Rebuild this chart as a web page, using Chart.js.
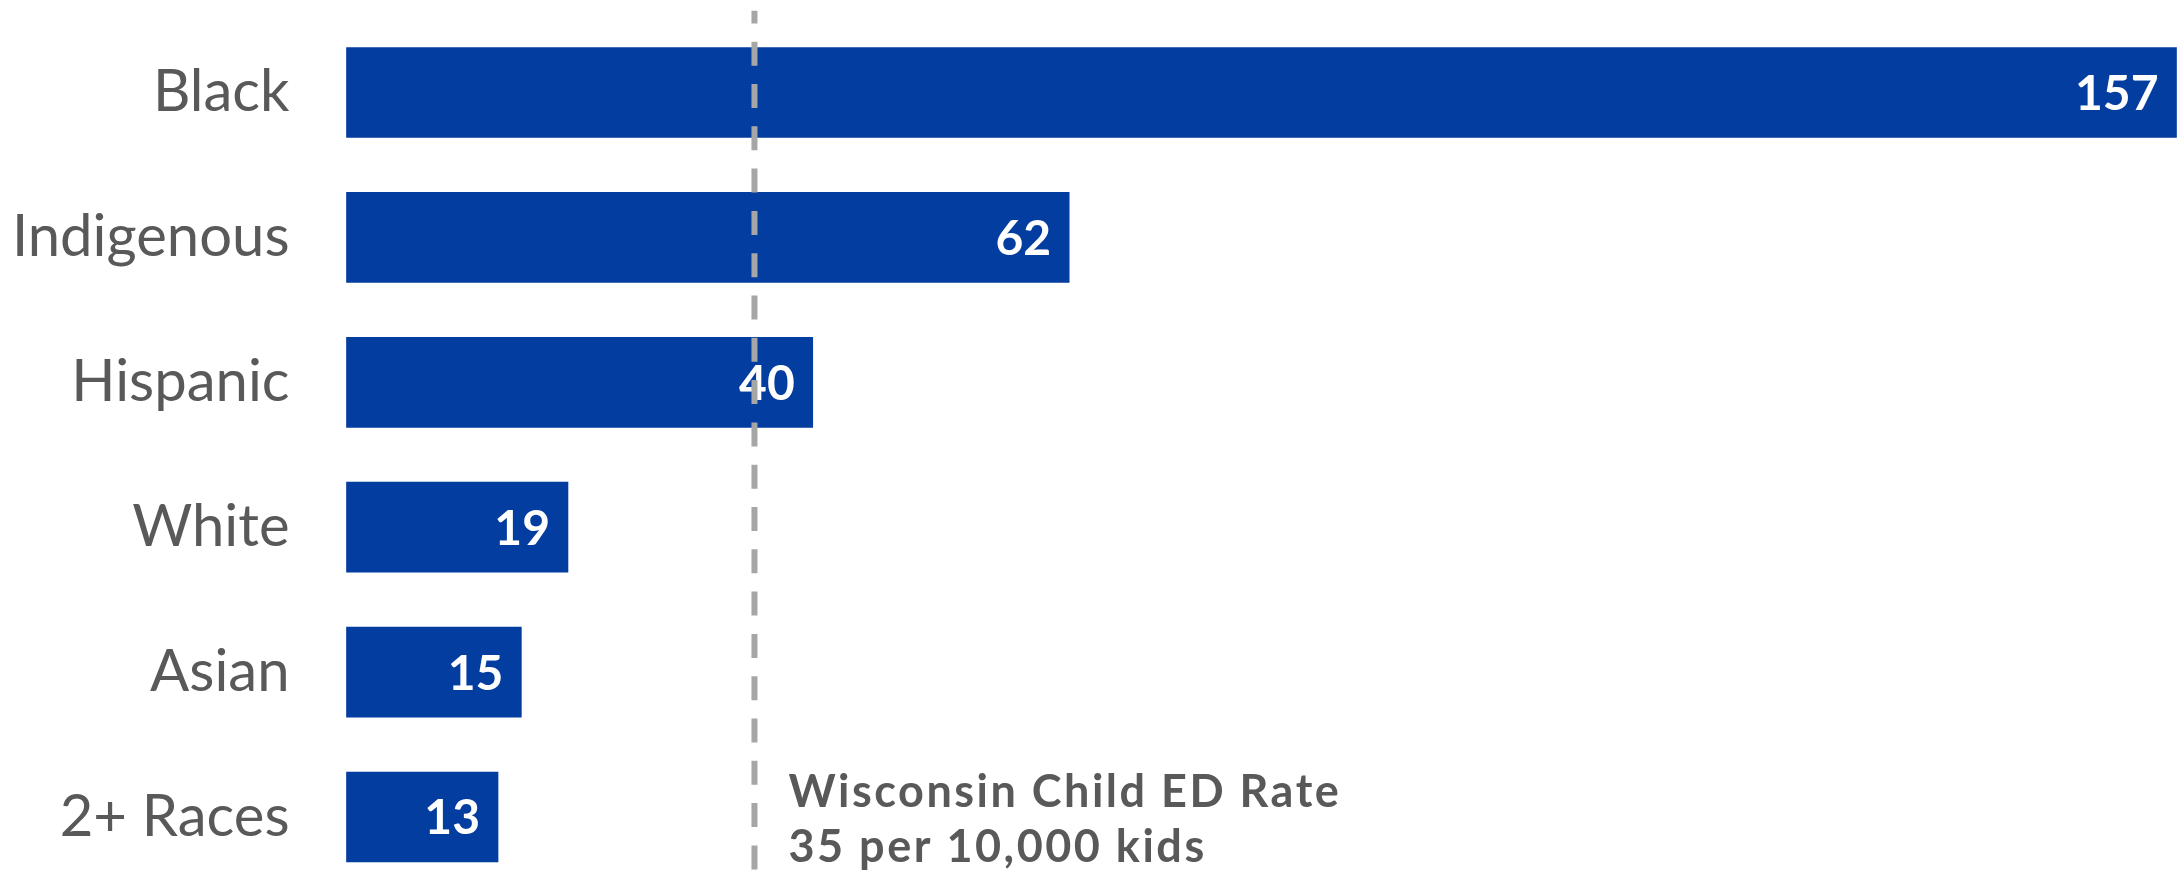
<!DOCTYPE html>
<html>
<head>
<meta charset="utf-8">
<script src="https://cdn.jsdelivr.net/npm/chart.js@4/dist/chart.umd.min.js"></script>
<style>
  html, body { margin: 0; padding: 0; background: #ffffff; overflow: hidden; }
  #wrap { width: 2182px; height: 873px; }
</style>
</head>
<body>
<div id="wrap"><canvas id="chart" width="2182" height="873"></canvas></div>
<script>
// Child emergency-department visit rates by race/ethnicity (per 10,000 kids)
const categories = ['Black', 'Indigenous', 'Hispanic', 'White', 'Asian', '2+ Races'];
const rates = [157, 62, 40, 19, 15, 13];

// Statewide reference rate and its note
const stateRate = 35;
const stateNote = ['Wisconsin Child ED Rate', '35 per 10,000 kids'];

const BAR_BLUE = '#023d9f';
const TEXT_GRAY = '#595959';
const LINE_GRAY = '#a6a6a6';

// White value labels drawn inside the end of each bar
const valueLabels = {
  id: 'valueLabels',
  afterDatasetsDraw(chart) {
    const ctx = chart.ctx;
    const meta = chart.getDatasetMeta(0);
    ctx.save();
    ctx.fillStyle = '#ffffff';
    ctx.font = 'bold 48px Lato, "Open Sans", sans-serif';
    ctx.textAlign = 'right';
    ctx.textBaseline = 'middle';
    meta.data.forEach((bar, i) => {
      ctx.fillText(String(rates[i]), bar.x - 18, bar.y + 2);
    });
    ctx.restore();
  }
};

// Dashed vertical reference line with its note
const stateLine = {
  id: 'stateLine',
  afterDatasetsDraw(chart) {
    const ctx = chart.ctx;
    const x = chart.scales.x.getPixelForValue(stateRate);
    ctx.save();
    ctx.strokeStyle = LINE_GRAY;
    ctx.lineWidth = 6;
    ctx.setLineDash([24, 18.3]);
    ctx.lineDashOffset = 11.3;
    ctx.beginPath();
    ctx.moveTo(x, 10.7);
    ctx.lineTo(x, chart.height);
    ctx.stroke();
    ctx.setLineDash([]);
    ctx.fillStyle = TEXT_GRAY;
    ctx.font = 'bold 45px Lato, "Open Sans", sans-serif';
    ctx.letterSpacing = '2.5px';
    ctx.textAlign = 'left';
    ctx.textBaseline = 'alphabetic';
    ctx.fillText(stateNote[0], x + 34, 807);
    ctx.fillText(stateNote[1], x + 34, 862);
    ctx.restore();
  }
};

new Chart(document.getElementById('chart'), {
  type: 'bar',
  data: {
    labels: categories,
    datasets: [{
      data: rates,
      backgroundColor: BAR_BLUE,
      borderWidth: 0,
      barThickness: 90,
      clip: false
    }]
  },
  options: {
    indexAxis: 'y',
    responsive: false,
    animation: false,
    devicePixelRatio: 1,
    layout: { padding: { top: 92.5, bottom: 56, left: 0, right: 5.5 } },
    plugins: {
      legend: { display: false },
      tooltip: { enabled: false }
    },
    scales: {
      x: {
        display: false,
        min: 0,
        max: Math.max(...rates)
      },
      y: {
        offset: false,
        grid: { display: false, drawTicks: false },
        border: { display: false },
        ticks: {
          color: TEXT_GRAY,
          padding: 57,
          font: { family: 'Lato, "Open Sans", sans-serif', size: 58 }
        },
        afterFit(scale) {
          scale.width = 346.5;
          scale.paddingTop = 0;
          scale.paddingBottom = 0;
        }
      }
    }
  },
  plugins: [valueLabels, stateLine]
});
</script>
</body>
</html>
